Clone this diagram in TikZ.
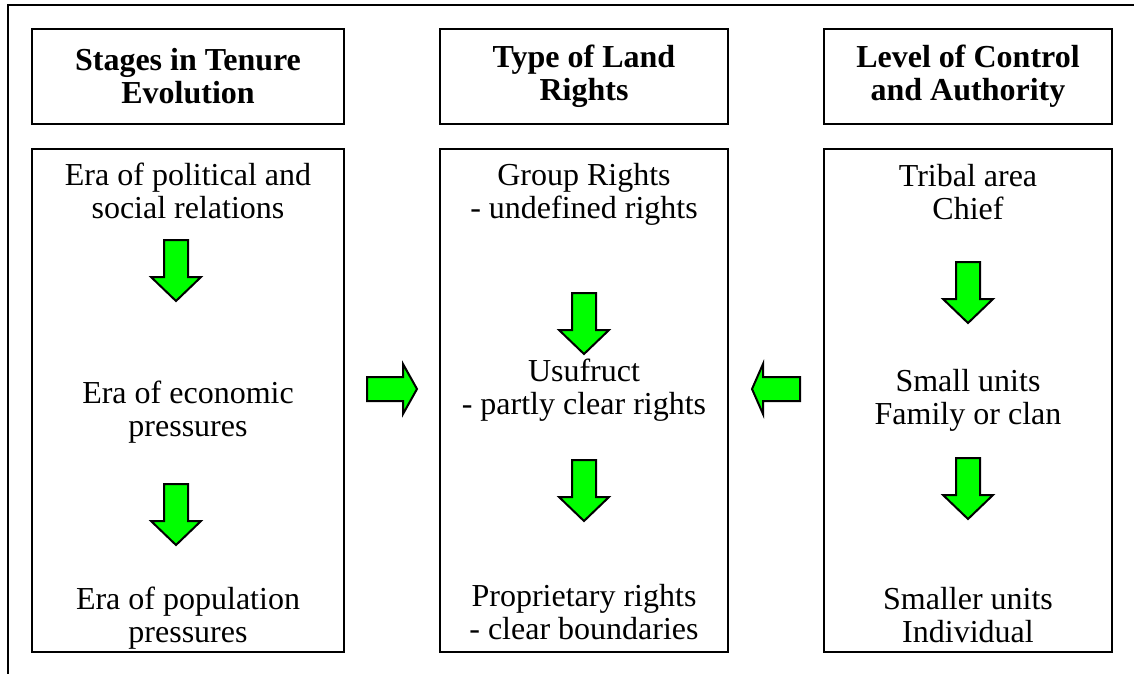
\documentclass[tikz,border=0pt]{standalone}
\usepackage{fontspec}
\setmainfont{Liberation Serif}
\definecolor{arrowgreen}{RGB}{0,255,0}
\begin{document}
\begin{tikzpicture}[x=1pt,y=-1pt,
  frame/.style={line width=2.6pt},
  panel/.style={draw, line width=2.6pt},
  headtext/.style={font=\fontsize{32}{33}\selectfont\bfseries, align=center, inner sep=0pt},
  bodytext/.style={font=\fontsize{32}{33}\selectfont, align=center, inner sep=0pt},
  blockarrow/.style={fill=arrowgreen, draw=black, line width=2pt, line join=miter},
  pics/downarr/.style={code={
    \draw[blockarrow] (-12,0) -- (12,0) -- (12,37) -- (25,37) -- (0,61) -- (-25,37) -- (-12,37) -- cycle;}},
  pics/rightarr/.style={code={
    \draw[blockarrow] (0,-12) -- (36,-12) -- (36,-25) -- (50,0) -- (36,25) -- (36,12) -- (0,12) -- cycle;}},
  pics/leftarr/.style={code={
    \draw[blockarrow] (0,-12) -- (-37,-12) -- (-37,-25) -- (-48,0) -- (-37,25) -- (-37,12) -- (0,12) -- cycle;}}
]
\useasboundingbox (0,0) rectangle (1134,674);

% outer frame: top and left edges only
\coordinate (fTL) at (8,5);
\coordinate (fTR) at (1134,5);
\coordinate (fBL) at (8,674);
\draw[frame] (fTR) -- (fTL) -- (fBL);

% header boxes
\draw[panel] (32,29) rectangle (344,124);
\draw[panel] (440,29) rectangle (728,124);
\draw[panel] (824,29) rectangle (1112,124);
\node[headtext] (h1) at (188,76) {Stages in Tenure\\Evolution};
\node[headtext] (h2) at (584,76) {Type of Land\\Rights};
\node[headtext] (h3) at (968,76) {Level of Control\\and Authority};

% body panels
\draw[panel] (32,149) rectangle (344,652);
\draw[panel] (440,149) rectangle (728,652);
\draw[panel] (824,149) rectangle (1112,652);

% column 1
\node[bodytext] (a1) at (188,191) {Era of political and\\social relations};
\node[bodytext] (a2) at (188,412) {Era of economic\\pressures};
\node[bodytext] (a3) at (188,618) {Era of population\\pressures};
\pic at (176,240) {downarr};
\pic at (176,484) {downarr};

% column 2
\node[bodytext] (b1) at (584,194) {Group Rights\\- undefined rights};
\node[bodytext] (b2) at (584,390) {Usufruct\\- partly clear rights};
\node[bodytext] (b3) at (584,612) {Proprietary rights\\- clear boundaries};
\pic at (584,293) {downarr};
\pic at (584,460) {downarr};

% column 3
\node[bodytext] (c1) at (968,192) {Tribal area\\Chief};
\node[bodytext] (c2) at (968,400) {Small units\\Family or clan};
\node[bodytext] (c3) at (968,615) {Smaller units\\Individual};
\pic at (968,262) {downarr};
\pic at (968,458) {downarr};

% arrows between the columns
\pic at (367,389) {rightarr};
\pic at (800,389) {leftarr};
\end{tikzpicture}
\end{document}
